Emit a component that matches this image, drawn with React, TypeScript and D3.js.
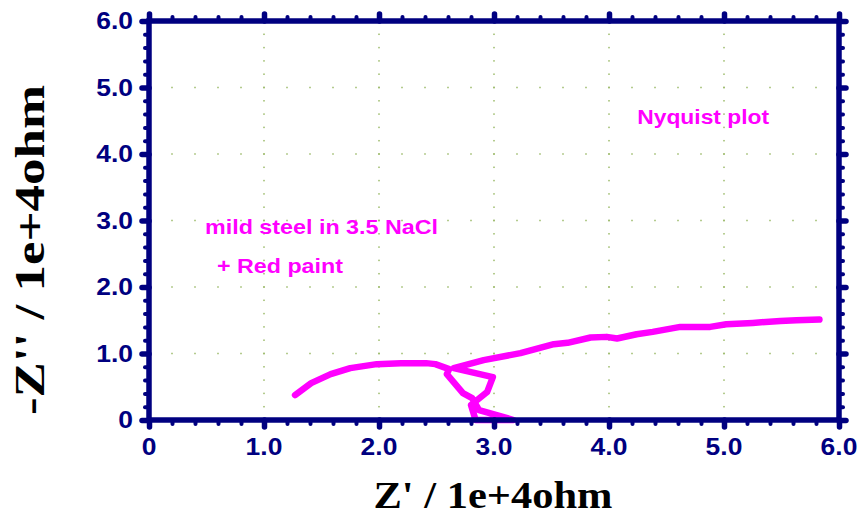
import React, { useEffect, useRef } from "react";
import * as d3 from "d3";

// Nyquist data (Z' and -Z'' in 1e+4 ohm)
const zReal = [
  1.27, 1.41, 1.58, 1.75, 1.98, 2.19, 2.41, 2.49, 2.61, 2.59, 2.73, 2.81, 2.87,
  3.17, 2.84, 2.8, 2.94, 2.99, 2.65, 2.91, 3.23, 3.52, 3.64, 3.84, 3.98, 4.07,
  4.24, 4.38, 4.62, 4.88, 5.02, 5.25, 5.49, 5.63, 5.83,
];
const zImag = [
  0.375, 0.555, 0.69, 0.78, 0.84, 0.855, 0.855, 0.84, 0.765, 0.69, 0.405, 0.33,
  0.15, 0.0, 0.0, 0.225, 0.42, 0.645, 0.78, 0.9, 1.005, 1.14, 1.16, 1.24, 1.25,
  1.225, 1.29, 1.325, 1.4, 1.4, 1.44, 1.46, 1.49, 1.5, 1.51,
];

const majorTicks = [0, 1, 2, 3, 4, 5, 6];
const tickLabels = ["0", "1.0", "2.0", "3.0", "4.0", "5.0", "6.0"];
const xTitle = "Z' / 1e+4ohm";
const yTitle = "-Z'' / 1e+4ohm";
const notes = ["Nyquist plot", "mild steel in 3.5 NaCl", "+ Red paint"];

const NAVY = "#000080";
const PINK = "#ff00ff";

const App = () => {
  const ref = useRef(null);

  useEffect(() => {
    const width = 859;
    const height = 519;
    const svg = d3.select(ref.current);
    svg.selectAll("*").remove();
    svg.attr("width", width).attr("height", height);

    const x = d3.scaleLinear().domain([0, 6]).range([149, 839]);
    const y = d3.scaleLinear().domain([0, 6]).range([420, 21]);

    const minor = d3.range(0, 30.5).map((i) => i / 5).filter((v) => Math.abs(v - Math.round(v)) > 1e-6);

    // dotted grid
    const grid = svg.append("g").attr("fill", "#9cbb6a");
    majorTicks.slice(1, -1).forEach((m) => {
      d3.range(1, 30).forEach((i) => {
        const v = i / 5;
        grid.append("rect").attr("x", x(m) - 0.75).attr("y", y(v) - 0.75).attr("width", 1.5).attr("height", 1.5);
        grid.append("rect").attr("x", x(v) - 0.75).attr("y", y(m) - 0.75).attr("width", 1.5).attr("height", 1.5);
      });
    });

    // curve
    const pts = zReal.map((d, i) => [d, zImag[i]]);
    svg
      .append("path")
      .datum(pts)
      .attr("fill", "none")
      .attr("stroke", PINK)
      .attr("stroke-width", 6.5)
      .attr("stroke-linejoin", "round")
      .attr("stroke-linecap", "round")
      .attr("d", d3.line().x((d) => x(d[0])).y((d) => y(d[1])));

    // axes: majors and minors on all four sides
    const styleTicks = (g, w) => {
      g.select(".domain").remove();
      g.selectAll("line").attr("stroke", NAVY).attr("stroke-width", w).attr("stroke-linecap", "round");
      g.selectAll("text").remove();
    };
    const sides = [
      [d3.axisBottom(x), `translate(0,${y(0)})`],
      [d3.axisTop(x), `translate(0,${y(6)})`],
      [d3.axisLeft(y), `translate(${x(0)},0)`],
      [d3.axisRight(y), `translate(${x(6)},0)`],
    ];
    sides.forEach(([ax, tr]) => {
      svg.append("g").attr("transform", tr).call(ax.tickValues(minor).tickSize(4)).call((g) => styleTicks(g, 4));
      svg.append("g").attr("transform", tr).call(ax.tickValues(majorTicks).tickSize(7)).call((g) => styleTicks(g, 5.5));
    });

    // frame
    svg
      .append("rect")
      .attr("x", x(0))
      .attr("y", y(6))
      .attr("width", x(6) - x(0))
      .attr("height", y(0) - y(6))
      .attr("fill", "none")
      .attr("stroke", NAVY)
      .attr("stroke-width", 5.5);

    // tick labels
    const lab = svg
      .append("g")
      .attr("fill", NAVY)
      .attr("font-family", "'Liberation Sans', Arial, sans-serif")
      .attr("font-weight", "bold")
      .attr("font-size", 23);
    majorTicks.forEach((m, i) => {
      lab
        .append("text")
        .attr("transform", `translate(${x(m)},${455}) scale(1.15,1)`)
        .attr("text-anchor", "middle")
        .text(tickLabels[i]);
      lab
        .append("text")
        .attr("transform", `translate(133,${y(m) + 8}) scale(1.15,1)`)
        .attr("text-anchor", "end")
        .text(tickLabels[i]);
    });

    // axis titles
    const ttl = svg
      .append("g")
      .attr("fill", "#000")
      .attr("font-family", "'Liberation Serif', 'Times New Roman', serif")
      .attr("font-weight", "bold")
      .attr("font-size", 38);
    ttl
      .append("text")
      .attr("x", 493)
      .attr("y", 508)
      .attr("text-anchor", "middle")
      .attr("textLength", 239)
      .attr("lengthAdjust", "spacingAndGlyphs")
      .text(xTitle);
    ttl
      .append("text")
      .attr("transform", "translate(44,250) rotate(-90)")
      .attr("text-anchor", "middle")
      .attr("font-size", 43)
      .attr("textLength", 330)
      .attr("lengthAdjust", "spacingAndGlyphs")
      .text(yTitle);

    // annotations
    const ann = svg
      .append("g")
      .attr("fill", PINK)
      .attr("font-family", "'Liberation Sans', Arial, sans-serif")
      .attr("font-weight", "bold")
      .attr("font-size", 21);
    const spots = [
      [4.245, 4.45, 132],
      [0.487, 2.797, 233],
      [0.591, 2.21, 126],
    ];
    notes.forEach((t, i) => {
      ann
        .append("text")
        .attr("x", x(spots[i][0]))
        .attr("y", y(spots[i][1]))
        .attr("textLength", spots[i][2])
        .attr("lengthAdjust", "spacingAndGlyphs")
        .text(t);
    });
  }, []);

  return (
    <div style={{ position: "absolute", left: 0, top: 0 }}>
      <svg ref={ref}></svg>
    </div>
  );
};

export default App;
